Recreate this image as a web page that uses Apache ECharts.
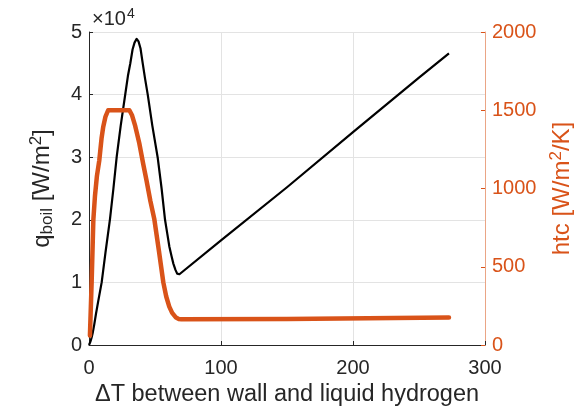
<!DOCTYPE html>
<html>
<head>
<meta charset="utf-8">
<script src="https://cdn.jsdelivr.net/npm/echarts@6/dist/echarts.min.js"></script>
<style>html,body{margin:0;padding:0;background:#fff;overflow:hidden}#c{width:579px;height:407px}</style>
</head>
<body>
<div id="c"></div>
<script>
// q_boil curve: ΔT and q (W/m^2)
const qDeltaT = [0, 1, 2, 2.8, 4, 5.3, 7, 9.6, 12.5, 15.9, 18.5, 21, 24, 27.5, 29.5, 31.3, 33, 34.5, 36.1, 37.5, 39, 40.7, 42.5, 44.5, 48, 52, 55, 57.6, 59.3, 60.9, 62.5, 63.9, 65.5, 66.8, 67.7, 68.5, 100, 150, 200, 250, 272.7];
const qValues = [0, 500, 1200, 1900, 3300, 5000, 7000, 10000, 14800, 20100, 25000, 30100, 35000, 40100, 43000, 45000, 47200, 48300, 48900, 48500, 47400, 45000, 42500, 40000, 35000, 30000, 25000, 20000, 17800, 15700, 14200, 13000, 12000, 11400, 11200, 11300, 16700, 25200, 34000, 42700, 46600];
// htc curve: ΔT and htc (W/m^2/K)
const hDeltaT = [0.7, 2, 3.3, 4.5, 6, 7.8, 9.5, 10.8, 12.5, 14.5, 30.6, 32.5, 35, 38.1, 41, 43.5, 46.5, 49.5, 53, 56.3, 58.5, 60.8, 63, 65.9, 68, 70, 150, 272.7];
const hValues = [60, 400, 800, 950, 1080, 1180, 1320, 1395, 1460, 1500, 1500, 1470, 1400, 1289, 1160, 1054, 920, 803, 600, 400, 310, 245, 205, 175, 166, 164, 166, 176];
const xTicks = [0, 100, 200, 300];
const qTicks = [0, 1, 2, 3, 4, 5];
const hTicks = [0, 500, 1000, 1500, 2000];

const ORANGE = '#D95319';
const DARK = '#262626';
const FONT = "'Liberation Sans', Arial, Helvetica, sans-serif";

const chart = echarts.init(document.getElementById('c'), null, {renderer: 'canvas', width: 579, height: 407});
chart.setOption({
  animation: false,
  backgroundColor: '#fff',
  grid: {left: 89, top: 32, width: 396, height: 313, containLabel: false, outerBoundsMode: 'none'},
  graphic: [{
    type: 'text', left: 92, top: 7,
    style: {
      text: '×10{s|4}',
      font: '20px ' + FONT, fill: DARK,
      rich: {s: {fontSize: 14, fontFamily: FONT, fill: DARK, padding: [0, 0, 10, 1]}}
    }
  }],
  xAxis: {
    type: 'value', min: xTicks[0], max: xTicks[xTicks.length - 1], interval: 100,
    name: 'ΔT between wall and liquid hydrogen', nameLocation: 'middle', nameGap: 33,
    nameTextStyle: {fontSize: 23.5, fontFamily: FONT, color: DARK, verticalAlign: 'top'},
    axisLine: {show: true, lineStyle: {color: DARK, width: 1}},
    axisTick: {show: true, inside: true, length: 4, lineStyle: {color: DARK}},
    axisLabel: {fontSize: 20, fontFamily: FONT, color: DARK, margin: 13},
    splitLine: {show: true, lineStyle: {color: '#e3e3e3', width: 1}}
  },
  yAxis: [{
    type: 'value', min: 0, max: 50000, interval: 10000, position: 'left',
    name: 'q{sub|boil} [W/m{sup|2}]', nameLocation: 'middle', nameGap: 32, nameRotate: 90,
    nameTextStyle: {
      fontSize: 24, fontFamily: FONT, color: DARK,
      rich: {
        sub: {fontSize: 17, fontFamily: FONT, color: DARK, padding: [10, 0, 0, 0]},
        sup: {fontSize: 17, fontFamily: FONT, color: DARK, padding: [0, 0, 12, 0]}
      }
    },
    axisLine: {show: true, lineStyle: {color: DARK, width: 1}},
    axisTick: {show: true, inside: true, length: 4, lineStyle: {color: DARK}},
    axisLabel: {fontSize: 20, fontFamily: FONT, color: DARK, margin: 7,
      formatter: v => String(qTicks[Math.round(v / 10000)])},
    splitLine: {show: true, lineStyle: {color: '#e3e3e3', width: 1}}
  }, {
    type: 'value', min: hTicks[0], max: hTicks[hTicks.length - 1], interval: 500, position: 'right',
    name: 'htc [W/m{sup|2}/K]', nameLocation: 'middle', nameGap: 62, nameRotate: 90,
    nameTextStyle: {
      fontSize: 24, fontFamily: FONT, color: ORANGE,
      rich: {sup: {fontSize: 17, fontFamily: FONT, color: ORANGE, padding: [0, 0, 12, 0]}}
    },
    axisLine: {show: true, lineStyle: {color: '#eaa585', width: 1}},
    axisTick: {show: true, inside: true, length: 4, lineStyle: {color: ORANGE}},
    axisLabel: {fontSize: 20, fontFamily: FONT, color: ORANGE, margin: 7, formatter: v => String(v)},
    splitLine: {show: false}
  }],
  series: [{
    type: 'line', yAxisIndex: 0, showSymbol: false, symbol: 'none', smooth: false,
    data: qDeltaT.map((t, i) => [t, qValues[i]]),
    lineStyle: {color: '#000', width: 2.2, join: 'round'}, z: 3
  }, {
    type: 'line', yAxisIndex: 1, showSymbol: false, symbol: 'none', smooth: false,
    data: hDeltaT.map((t, i) => [t, hValues[i]]),
    lineStyle: {color: ORANGE, width: 4.5, cap: 'round', join: 'round'}, z: 4
  }]
});
</script>
</body>
</html>
